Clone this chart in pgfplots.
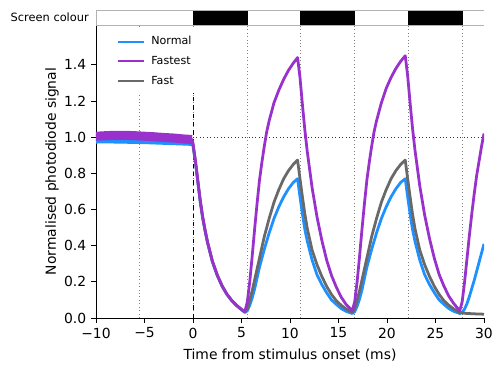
\documentclass[border=0pt]{standalone}
\usepackage{fontspec}
\setmainfont{DejaVu Sans}
\usepackage{pgfplots}
\pgfplotsset{compat=1.18}
\definecolor{cNormal}{RGB}{30,144,255}
\definecolor{cFastest}{RGB}{153,50,204}
\definecolor{cFast}{RGB}{105,105,105}
\begin{document}
\begin{tikzpicture}
\useasboundingbox (-69.12pt,-38.16pt) rectangle (292.32pt,228.96pt);
\begin{axis}[
  at={(0,0)}, anchor=south west,
  width=279.36pt, height=210.96pt, scale only axis,
  xmin=-10, xmax=30, ymin=0, ymax=1.62,
  axis x line*=bottom, axis y line*=left,
  axis line style={line width=0.6pt},
  tick align=outside, major tick length=3.5pt,
  tick style={black, line width=0.6pt},
  /pgf/number format/assume math mode=true,
  xtick={-10,-5,0,5,10,15,20,25,30},
  xticklabels={−10,−5,0,5,10,15,20,25,30},
  ytick={0,0.2,0.4,0.6,0.8,1.0,1.2,1.4},
  yticklabels={0.0,0.2,0.4,0.6,0.8,1.0,1.2,1.4},
  xlabel={Time from stimulus onset (ms)},
  ylabel={Normalised photodiode signal},
  xlabel style={at={(axis description cs:0.5,-0.126)}, anchor=center},
  ylabel style={at={(axis description cs:-0.113,0.5)}, anchor=center},
  legend image code/.code={\draw[#1,line width=1.5pt] (0pt,0pt) -- (18.4pt,0pt); \path (21.8pt,0pt);},
  legend cell align=left,
  legend style={at={(rel axis cs:0.039,0.986)}, anchor=north west, draw=none, fill=white,
    font=\fontsize{8}{9.6}\selectfont, inner xsep=4pt, inner ysep=3pt, row sep=2.8pt},
]
\addlegendimage{cNormal}\addlegendentry{Normal}
\addlegendimage{cFastest}\addlegendentry{Fastest}
\addlegendimage{cFast}\addlegendentry{Fast}
% frame boundaries
\addplot[forget plot, gray, dotted, line width=0.5pt] coordinates {(-5.556,0) (-5.556,1.62)};
\addplot[forget plot, gray, dotted, line width=0.5pt] coordinates {(0,0) (0,1.62)};
\addplot[forget plot, gray, dotted, line width=0.5pt] coordinates {(5.556,0) (5.556,1.62)};
\addplot[forget plot, gray, dotted, line width=0.5pt] coordinates {(11.111,0) (11.111,1.62)};
\addplot[forget plot, gray, dotted, line width=0.5pt] coordinates {(16.667,0) (16.667,1.62)};
\addplot[forget plot, gray, dotted, line width=0.5pt] coordinates {(22.222,0) (22.222,1.62)};
\addplot[forget plot, gray, dotted, line width=0.5pt] coordinates {(27.778,0) (27.778,1.62)};
\addplot[forget plot, black!80, dotted, line width=0.5pt] coordinates {(0,1) (30,1)};
\addplot[forget plot, black, dashed, line width=0.5pt] coordinates {(0,0) (0,1.245)};
% Normal
\addplot[forget plot, cNormal, line width=4pt] coordinates {(-10,0.980) (-9,0.981) (-8,0.980) (-7,0.979) (-6,0.978) (-5,0.977) (-4,0.975) (-3,0.973) (-2,0.971) (-1,0.969) (-0.1,0.967)};
\addplot[forget plot, cNormal, line width=2pt, line join=round] coordinates {
(-10,0.980) (-9,0.981) (-8,0.980) (-7,0.979) (-6,0.978) (-5,0.977) (-4,0.975) (-3,0.973) (-2,0.971) (-1,0.969) (-0.1,0.967)
(0,0.95) (0.25,0.86) (0.5,0.75) (0.75,0.64) (1,0.55) (1.25,0.48) (1.5,0.415) (2,0.31) (2.5,0.235) (3,0.175) (3.5,0.13) (4,0.095) (4.5,0.068) (5,0.045) (5.35,0.03)
(5.6,0.04) (5.85,0.07) (6.1,0.11) (6.35,0.16) (6.85,0.28) (7.35,0.38) (7.85,0.47) (8.35,0.55) (8.85,0.615) (9.35,0.67) (9.85,0.715) (10.35,0.75) (10.78,0.77)
(11.03,0.67) (11.28,0.575) (11.53,0.49) (11.78,0.425) (12.28,0.32) (12.78,0.24) (13.28,0.185) (13.78,0.14) (14.28,0.10) (14.78,0.075) (15.28,0.052) (15.78,0.037) (16.42,0.025)
(16.67,0.035) (16.92,0.065) (17.17,0.105) (17.42,0.155) (17.92,0.28) (18.42,0.38) (18.92,0.47) (19.42,0.55) (19.92,0.615) (20.42,0.67) (20.92,0.715) (21.42,0.75) (21.88,0.77)
(22.13,0.67) (22.38,0.575) (22.63,0.49) (22.88,0.425) (23.38,0.32) (23.88,0.24) (24.38,0.185) (24.88,0.14) (25.38,0.10) (25.88,0.075) (26.38,0.052) (26.88,0.037) (27.5,0.025)
(27.75,0.03) (28,0.05) (28.25,0.08) (28.5,0.12) (29,0.21) (29.5,0.31) (30,0.41)};
% Fast
\addplot[forget plot, cFast, line width=2pt, line join=round] coordinates {
(-10,1.0) (-9,1.003) (-8,1.005) (-7,1.005) (-6,1.003) (-5,1.0) (-4,0.997) (-3,0.993) (-2,0.99) (-1,0.985) (-0.1,0.982)
(0,0.96) (0.25,0.865) (0.5,0.755) (0.75,0.645) (1,0.555) (1.25,0.483) (1.5,0.418) (2,0.313) (2.5,0.237) (3,0.177) (3.5,0.131) (4,0.096) (4.5,0.069) (5,0.047) (5.35,0.033)
(5.6,0.05) (5.85,0.10) (6.1,0.15) (6.35,0.21) (6.85,0.33) (7.35,0.45) (7.85,0.55) (8.35,0.64) (8.85,0.71) (9.35,0.77) (9.85,0.815) (10.35,0.85) (10.78,0.873)
(11.03,0.77) (11.28,0.67) (11.53,0.575) (11.78,0.495) (12.28,0.375) (12.78,0.295) (13.28,0.23) (13.78,0.175) (14.28,0.13) (14.78,0.095) (15.28,0.07) (15.78,0.05) (16.42,0.03)
(16.67,0.05) (16.92,0.10) (17.17,0.15) (17.42,0.21) (17.92,0.33) (18.42,0.45) (18.92,0.55) (19.42,0.64) (19.92,0.71) (20.42,0.77) (20.92,0.815) (21.42,0.85) (21.88,0.873)
(22.13,0.77) (22.38,0.67) (22.63,0.575) (22.88,0.495) (23.38,0.375) (23.88,0.295) (24.38,0.23) (24.88,0.175) (25.38,0.13) (25.88,0.095) (26.38,0.07) (26.88,0.05) (27.5,0.03)
(28,0.026) (29,0.023) (30,0.021)};
% Fastest
\addplot[forget plot, cFastest, line width=6.5pt] coordinates {(-10,1.005) (-9,1.008) (-8,1.010) (-7,1.010) (-6,1.008) (-5,1.005) (-4,1.002) (-3,0.998) (-2,0.995) (-1,0.990) (-0.1,0.987)};
\addplot[forget plot, cFastest, line width=2pt, line join=round] coordinates {
(-10,1.005) (-9,1.008) (-8,1.010) (-7,1.010) (-6,1.008) (-5,1.005) (-4,1.002) (-3,0.998) (-2,0.995) (-1,0.990) (-0.1,0.987)
(0,0.965) (0.25,0.87) (0.5,0.76) (0.75,0.65) (1,0.56) (1.25,0.485) (1.5,0.42) (2,0.315) (2.5,0.238) (3,0.178) (3.5,0.132) (4,0.097) (4.5,0.07) (5,0.048) (5.35,0.035)
(5.6,0.09) (5.85,0.20) (6.1,0.34) (6.35,0.49) (6.6,0.63) (6.85,0.76) (7.1,0.86) (7.35,0.95) (7.6,1.03) (7.85,1.09) (8.35,1.19) (8.85,1.26) (9.35,1.32) (9.85,1.37) (10.35,1.41) (10.78,1.44)
(11.03,1.33) (11.28,1.18) (11.53,1.04) (11.78,0.92) (12.03,0.82) (12.28,0.72) (12.78,0.56) (13.28,0.43) (13.78,0.32) (14.28,0.235) (14.78,0.17) (15.28,0.115) (15.78,0.075) (16.42,0.04)
(16.67,0.09) (16.92,0.20) (17.17,0.34) (17.42,0.49) (17.67,0.63) (17.92,0.76) (18.17,0.86) (18.42,0.95) (18.67,1.03) (18.92,1.09) (19.42,1.19) (19.92,1.27) (20.42,1.33) (20.92,1.38) (21.42,1.42) (21.88,1.45)
(22.13,1.34) (22.38,1.19) (22.63,1.05) (22.88,0.93) (23.13,0.83) (23.38,0.73) (23.88,0.57) (24.38,0.44) (24.88,0.33) (25.38,0.24) (25.88,0.175) (26.38,0.12) (26.88,0.08) (27.5,0.04)
(27.75,0.09) (28,0.2) (28.25,0.33) (28.5,0.46) (28.75,0.58) (29,0.69) (29.25,0.79) (29.5,0.87) (29.75,0.95) (30,1.02)};
\end{axis}
\begin{axis}[
  at={(0,210.96pt)}, anchor=south west,
  width=279.36pt, height=10.8pt, scale only axis,
  xmin=-10, xmax=30, ymin=0, ymax=1, hide axis, clip=false,
]
\addplot[fill=black, draw=black] coordinates {(0,0) (0,1) (5.556,1) (5.556,0)} -- cycle;
\addplot[fill=black, draw=black] coordinates {(11.111,0) (11.111,1) (16.667,1) (16.667,0)} -- cycle;
\addplot[fill=black, draw=black] coordinates {(22.222,0) (22.222,1) (27.778,1) (27.778,0)} -- cycle;
\draw[gray!60, line width=0.5pt] (rel axis cs:1,0) -- (rel axis cs:0,0) -- (rel axis cs:0,1) -- (rel axis cs:1,1);
\node[anchor=east, inner sep=0pt, font=\fontsize{8.2}{10}\selectfont, xshift=-5pt] at (rel axis cs:0,0.5) {Screen colour};
\end{axis}
\end{tikzpicture}
\end{document}
